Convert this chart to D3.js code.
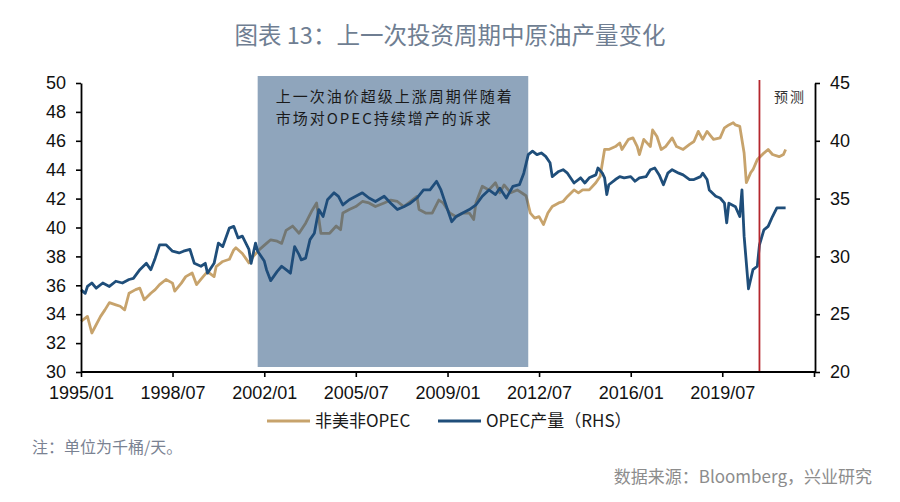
<!DOCTYPE html>
<html><head><meta charset="utf-8">
<script src="https://cdn.jsdelivr.net/npm/d3@7/dist/d3.min.js"></script>
<style>
body{margin:0;background:#fff;}
svg{display:block;}
</style></head>
<body>
<svg id="chart" width="900" height="502"></svg>
<script>
// ---- data ----
const titleText = "图表 13：上一次投资周期中原油产量变化";
const leftTicks = [30,32,34,36,38,40,42,44,46,48,50];
const rightTicks = [20,25,30,35,40,45];
const xTickDates = ["1995-01","1998-07","2002-01","2005-07","2009-01","2012-07","2016-01","2019-07","2023-01"];
const xTickLabels = ["1995/01","1998/07","2002/01","2005/07","2009/01","2012/07","2016/01","2019/07",""];
const seriesNames = ["非美非OPEC","OPEC产量（RHS）"];

const nonOpecDates = ["1995-01","1995-04","1995-06","1995-10","1995-12","1996-02","1996-05","1996-07","1996-09","1996-11",
"1997-02","1997-04","1997-06","1997-09","1997-11","1998-01","1998-04","1998-07","1998-08","1998-11",
"1999-01","1999-04","1999-06","1999-09","1999-11","2000-02","2000-03","2000-06","2000-09","2000-11",
"2000-12","2001-03","2001-06","2001-08","2001-11","2002-02","2002-04","2002-07","2002-09","2002-11",
"2003-02","2003-05","2003-08","2003-11","2004-01","2004-03","2004-07","2004-10","2004-12","2005-01",
"2005-04","2005-07","2005-10","2006-01","2006-04","2006-08","2006-11","2007-02","2007-05","2007-08",
"2007-11","2007-12","2008-03","2008-06","2008-09","2008-11","2009-02","2009-05","2009-08","2009-11",
"2010-01","2010-02","2010-05","2010-08","2010-11","2011-01","2011-03","2011-06","2011-09","2011-12",
"2012-01","2012-03","2012-05","2012-07","2012-09","2012-11","2013-01","2013-04","2013-06","2013-08",
"2013-11","2014-01","2014-03","2014-06","2014-09","2014-11","2015-01","2015-03","2015-06","2015-08",
"2015-09","2015-12","2016-02","2016-04","2016-05","2016-07","2016-10","2016-11","2017-01","2017-03",
"2017-05","2017-08","2017-10","2018-01","2018-04","2018-06","2018-08","2018-10","2018-12","2019-03",
"2019-06","2019-08","2019-10","2019-12","2020-01","2020-03","2020-05","2020-06","2020-08","2020-09",
"2020-11","2021-02","2021-04","2021-06","2021-09","2021-11","2021-12"];
const nonOpecValues = [33.5,33.85,32.7,33.85,34.3,34.8,34.65,34.55,34.3,35.45,
35.7,35.8,35.0,35.45,35.7,36.05,36.4,36.15,35.6,36.15,
36.6,36.85,36.05,36.6,36.95,36.6,37.3,37.65,37.8,38.45,
38.6,38.2,37.55,38.0,38.5,38.9,39.15,39.05,38.9,39.8,
40.1,39.6,40.3,41.2,41.7,39.6,39.6,40.1,39.85,41.0,
41.25,41.45,41.8,41.7,41.45,41.7,41.9,41.8,41.45,41.8,
42.15,41.25,41.0,41.0,41.9,41.7,41.0,40.75,41.0,41.0,
40.55,41.7,42.85,42.6,43.1,42.4,42.95,42.4,42.6,42.3,
42.2,41.0,40.65,40.75,40.2,41.0,41.45,41.7,41.8,42.15,
42.6,42.4,42.6,42.6,43.1,43.55,45.4,45.4,45.6,45.85,
45.4,46.1,46.2,45.6,45.05,46.1,45.6,46.75,46.3,45.4,
45.6,46.2,45.6,45.4,45.75,45.95,46.65,46.1,46.65,46.1,
46.2,46.9,47.1,47.25,47.1,47.0,45.15,43.1,43.8,44.0,
44.7,45.15,45.4,45.05,44.9,45.05,45.4];

const opecDates = ["1995-01","1995-03","1995-04","1995-06","1995-08","1995-11","1996-02","1996-05","1996-08","1996-11",
"1997-01","1997-04","1997-07","1997-09","1997-11","1998-01","1998-04","1998-07","1998-10","1998-12",
"1999-03","1999-05","1999-08","1999-10","1999-11","2000-02","2000-04","2000-06","2000-09","2000-11",
"2001-01","2001-03","2001-06","2001-07","2001-09","2001-10","2002-01","2002-02","2002-04","2002-07",
"2002-09","2002-11","2003-01","2003-03","2003-05","2003-06","2003-08","2003-10","2003-12","2004-02",
"2004-04","2004-06","2004-09","2004-11","2005-01","2005-04","2005-07","2005-10","2006-01","2006-04",
"2006-08","2006-11","2007-02","2007-05","2007-08","2007-11","2008-02","2008-05","2008-08","2008-10",
"2009-01","2009-03","2009-05","2009-08","2009-11","2010-02","2010-05","2010-08","2010-11","2011-01",
"2011-04","2011-07","2011-10","2011-12","2012-02","2012-04","2012-06","2012-08","2012-10","2012-12",
"2013-01","2013-04","2013-06","2013-08","2013-11","2014-02","2014-04","2014-06","2014-09","2014-10",
"2014-12","2015-01","2015-02","2015-03","2015-06","2015-08","2015-10","2016-01","2016-03","2016-05",
"2016-08","2016-10","2016-12","2017-02","2017-04","2017-06","2017-08","2017-11","2018-01","2018-04",
"2018-06","2018-09","2018-10","2018-12","2019-01","2019-04","2019-06","2019-08","2019-09","2019-10",
"2020-01","2020-03","2020-04","2020-05","2020-07","2020-09","2020-11","2020-12","2021-02","2021-04",
"2021-06","2021-08","2021-12"];
const opecValues = [27.1,26.8,27.4,27.7,27.25,27.7,27.4,27.85,27.7,28.0,
28.1,28.85,29.4,28.85,29.85,31.0,31.0,30.45,30.3,30.45,
30.6,29.4,29.15,29.4,28.55,29.4,31.15,30.85,32.45,32.6,
31.6,31.75,30.6,29.4,31.15,30.45,29.6,28.85,27.9,28.7,
29.15,28.85,28.55,30.85,30.15,29.7,29.85,31.45,32.0,34.05,
33.45,34.9,35.5,35.2,34.45,34.9,35.2,35.5,35.05,34.75,
35.2,34.6,34.05,34.3,34.6,35.05,35.75,35.75,36.5,35.75,
34.05,33.0,33.45,33.75,34.05,34.45,35.2,35.75,35.35,35.9,
35.05,36.05,36.2,37.2,38.8,39.1,38.8,38.95,38.65,38.1,
36.9,37.35,37.5,37.2,36.35,36.8,36.35,36.8,37.05,37.65,
37.2,36.8,35.35,36.2,36.65,36.9,36.8,36.9,36.5,36.8,
36.9,37.5,37.65,37.05,36.2,37.2,37.5,37.2,37.05,36.65,
36.65,36.9,37.2,36.65,35.75,35.2,35.05,34.6,32.9,34.6,
34.3,33.45,35.75,31.75,27.2,28.85,29.15,31.0,32.3,32.6,
33.45,34.2,34.2];

const shadeRange = ["2001-10","2012-02"];
const shadeText = ["上一次油价超级上涨周期伴随着","市场对OPEC持续增产的诉求"];
const forecastDate = "2020-12";
const forecastLabel = "预测";
const noteText = "注：单位为千桶/天。";
const sourceText = "数据来源：Bloomberg，兴业研究";

// ---- chart ----
const parse = d3.timeParse("%Y-%m");
const svg = d3.select("#chart");
const m = {left:81, right:815, top:83, bottom:372};

const x = d3.scaleTime().domain([parse("1995-01"), parse("2023-01")]).range([m.left, m.right-1]);
const yL = d3.scaleLinear().domain([30,50]).range([m.bottom, m.top]);
const yR = d3.scaleLinear().domain([20,45]).range([m.bottom, m.top]);

const tanColor = "#c7a36c", blueColor = "#1f4e7a";
const CJK = "'Noto Sans CJK SC','Noto Sans',sans-serif";

// title
svg.append("text").attr("x", 450).attr("y", 44).attr("text-anchor","middle")
  .attr("font-family", CJK).attr("font-size", 23.5).attr("font-weight", 400)
  .attr("fill", "#6f7e92").text(titleText);

// lines
const nonOpec = nonOpecDates.map((d,i)=>({d:parse(d), v:nonOpecValues[i]}));
const opec = opecDates.map((d,i)=>({d:parse(d), v:opecValues[i]}));
const lineL = d3.line().x(p=>x(p.d)).y(p=>yL(p.v));
const lineR = d3.line().x(p=>x(p.d)).y(p=>yR(p.v));
svg.append("path").datum(nonOpec).attr("d", lineL).attr("fill","none")
  .attr("stroke", tanColor).attr("stroke-width", 2.8).attr("stroke-linejoin","round");
svg.append("path").datum(opec).attr("d", lineR).attr("fill","none")
  .attr("stroke", blueColor).attr("stroke-width", 2.8).attr("stroke-linejoin","round");

// shaded period (semi-transparent overlay)
const sx0 = x(parse(shadeRange[0])), sx1 = x(parse(shadeRange[1]));
svg.append("rect").attr("x", sx0).attr("y", m.top-7).attr("width", sx1-sx0)
  .attr("height", (m.bottom-5)-(m.top-7)).attr("fill", "#1f4b79").attr("opacity", 0.5);
svg.selectAll(".shadeText").data(shadeText).enter().append("text")
  .attr("x", sx0+18).attr("y", (d,i)=>102+i*21.5)
  .attr("font-family", CJK).attr("font-size", 15).attr("letter-spacing", 2)
  .attr("fill", "#1a1a1a").text(d=>d);

// forecast line
const fx = x(parse(forecastDate));
svg.append("line").attr("x1", fx).attr("x2", fx).attr("y1", m.top-3).attr("y2", m.bottom)
  .attr("stroke", "#b5272d").attr("stroke-width", 1.8);
svg.append("text").attr("x", 806).attr("y", 102).attr("text-anchor","end")
  .attr("font-family", CJK).attr("font-size", 14).attr("letter-spacing", 2)
  .attr("fill", "#333").text(forecastLabel);

// axes
const axisFont = "'Liberation Sans',Arial,sans-serif";
function styleAxis(g){
  g.select(".domain").attr("stroke","#000").attr("stroke-width",1.8);
  g.selectAll(".tick line").attr("stroke","#000").attr("stroke-width",1.6);
  g.selectAll("text").attr("font-family", axisFont).attr("fill","#111");
}
const gL = svg.append("g").attr("transform",`translate(${m.left},0)`)
  .call(d3.axisLeft(yL).tickValues(leftTicks).tickSize(5).tickSizeOuter(0).tickPadding(10).tickFormat(d3.format("d")));
styleAxis(gL); gL.selectAll("text").attr("font-size", 18);

const gR = svg.append("g").attr("transform",`translate(${m.right},0)`)
  .call(d3.axisRight(yR).tickValues(rightTicks).tickSize(5).tickSizeOuter(0).tickPadding(10).tickFormat(d3.format("d")));
styleAxis(gR); gR.selectAll("text").attr("font-size", 18);

const xTicks = xTickDates.map(parse);
const gX = svg.append("g").attr("transform",`translate(0,${m.bottom})`)
  .call(d3.axisBottom(x).tickValues(xTicks).tickSize(5).tickSizeOuter(0).tickPadding(9)
    .tickFormat((d,i)=>xTickLabels[i]));
styleAxis(gX); gX.selectAll("text").attr("font-size", 18);
gX.select(".domain").attr("d", `M${m.left},0H${m.right}`);

// legend
const legFont = "'Noto Sans CJK SC',sans-serif";
const legend = [{x:267, c:tanColor, t:seriesNames[0]},{x:438, c:blueColor, t:seriesNames[1]}];
const lg = svg.selectAll(".leg").data(legend).enter().append("g");
lg.append("line").attr("x1", d=>d.x).attr("x2", d=>d.x+43).attr("y1", 421).attr("y2", 421)
  .attr("stroke", d=>d.c).attr("stroke-width", 3);
lg.append("text").attr("x", d=>d.x+48).attr("y", 427).attr("font-family", legFont)
  .attr("font-size", 17).attr("fill","#1a1a1a").text(d=>d.t);

// note & source
svg.append("text").attr("x", 32).attr("y", 453).attr("font-family", CJK)
  .attr("font-size", 16).attr("fill", "#7a8292").text(noteText);
svg.append("text").attr("x", 872).attr("y", 483).attr("text-anchor","end").attr("font-family", CJK)
  .attr("font-size", 17).attr("fill", "#8c8c8c").text(sourceText);
</script>
</body></html>
